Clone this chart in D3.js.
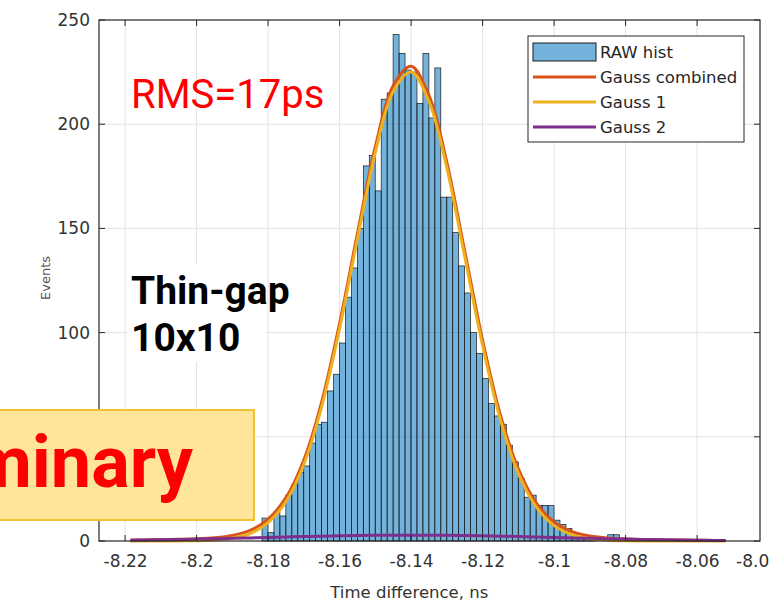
<!DOCTYPE html>
<html>
<head>
<meta charset="utf-8">
<script src="https://cdn.jsdelivr.net/npm/d3@7"></script>
<style>
    body { margin: 0; background: #fff; }
    #chart { width: 781px; height: 606px; overflow: hidden; }
</style>
</head>
<body>
<div id="chart"></div>
<script>
// raw histogram, counts per bin (bins of ~1.67 ps)
const binStart = -8.1817;
const binWidth = 0.001667;
const binCounts = [11, 4, 14, 12, 22, 27, 33, 36, 47, 56, 57, 72, 80, 95, 117, 131, 150, 180, 185, 168,
    212, 215, 243, 234, 226, 225, 210, 234, 203, 227, 165, 165, 148, 132, 119, 100, 90, 78, 66, 60,
    56, 46, 38, 30, 21, 22, 17, 17, 17, 10, 8, 6, 3, 2, 1, 1, 0, 0, 3, 3, 0];

// fitted curves
const fitX = [-8.2185, -8.215, -8.21, -8.205, -8.2, -8.195, -8.19, -8.185, -8.18, -8.175, -8.17, -8.165,
    -8.16, -8.155, -8.15, -8.145, -8.14, -8.135, -8.13, -8.125, -8.12, -8.115, -8.11, -8.105, -8.1,
    -8.095, -8.09, -8.085, -8.08, -8.075, -8.07, -8.065, -8.06, -8.055, -8.052];
const gaussCombined = [0.38, 0.48, 0.6, 0.8, 1.05, 1.56, 2.68, 5.09, 10.5, 20.8, 38.9, 66.8, 104.5, 147.6,
    189.2, 218.5, 227.8, 213.8, 181.7, 139.1, 96.3, 60.4, 34.6, 18.3, 9.1, 4.5, 2.4, 1.5, 1.0, 0.75,
    0.6, 0.48, 0.38, 0.29, 0.24];
const gauss1 = [0, 0, 0, 0.05, 0.14, 0.47, 1.4, 3.6, 8.8, 18.9, 36.8, 64.5, 102, 145, 186.5, 215.7, 225,
    211, 179, 136.5, 93.8, 58.1, 32.5, 16.4, 7.4, 3.0, 1.1, 0.4, 0.1, 0, 0, 0, 0, 0, 0];
const gauss2 = [0.38, 0.48, 0.6, 0.75, 0.91, 1.09, 1.28, 1.49, 1.7, 1.91, 2.12, 2.3, 2.47, 2.61, 2.71,
    2.78, 2.8, 2.78, 2.71, 2.61, 2.47, 2.3, 2.12, 1.91, 1.7, 1.49, 1.28, 1.09, 0.91, 0.75, 0.6, 0.48,
    0.38, 0.29, 0.24];

const xTicks = [-8.22, -8.2, -8.18, -8.16, -8.14, -8.12, -8.1, -8.08, -8.06, -8.04];
const yTicks = [0, 50, 100, 150, 200, 250];
const seriesNames = ["RAW hist", "Gauss combined", "Gauss 1", "Gauss 2"];

class HistFit {
    constructor(parentElement) {
        this.parentElement = parentElement;
        this.initVis();
    }

    initVis() {
        let vis = this;

        vis.margin = {top: 20, right: 21, bottom: 65, left: 99};
        vis.width = 781 - vis.margin.left - vis.margin.right;
        vis.height = 606 - vis.margin.top - vis.margin.bottom;

        // svg a bit narrower than the page: the last tick label is cut like in the original
        vis.svg = d3.select("#" + vis.parentElement).append("svg")
            .attr("width", 770)
            .attr("height", 606)
            .style("font-family", "'DejaVu Sans', sans-serif");

        vis.g = vis.svg.append("g")
            .attr("transform", "translate(" + vis.margin.left + "," + vis.margin.top + ")");

        vis.x = d3.scaleLinear()
            .domain([-8.2273, -8.0424])
            .range([0, vis.width]);

        vis.y = d3.scaleLinear()
            .domain([0, 250])
            .range([vis.height, 0]);

        vis.colors = {hist: "#0072BD", comb: "#D95319", g1: "#EDB120", g2: "#7E2F8E"};

        vis.updateVis();
    }

    updateVis() {
        let vis = this;
        let inX = xTicks.filter(d => d < -8.05);

        // grid
        vis.g.append("g").selectAll("line")
            .data(inX).enter().append("line")
            .attr("x1", d => vis.x(d)).attr("x2", d => vis.x(d))
            .attr("y1", 0).attr("y2", vis.height)
            .attr("stroke", "#e3e3e3");
        vis.g.append("g").selectAll("line")
            .data(yTicks.slice(1, -1)).enter().append("line")
            .attr("y1", d => vis.y(d)).attr("y2", d => vis.y(d))
            .attr("x1", 0).attr("x2", vis.width)
            .attr("stroke", "#e3e3e3");

        // histogram bars
        vis.g.append("g").selectAll("rect")
            .data(binCounts).enter().append("rect")
            .attr("x", (d, i) => vis.x(binStart + i * binWidth))
            .attr("width", vis.x(binStart + binWidth) - vis.x(binStart))
            .attr("y", d => vis.y(d))
            .attr("height", d => vis.height - vis.y(d))
            .attr("fill", vis.colors.hist)
            .attr("fill-opacity", 0.55)
            .attr("stroke", "#1a1a1a")
            .attr("stroke-width", 0.7);

        let line = d3.line()
            .x((d, i) => vis.x(fitX[i]))
            .y(d => vis.y(d))
            .curve(d3.curveCatmullRom.alpha(0.5));

        [[gaussCombined, vis.colors.comb], [gauss1, vis.colors.g1], [gauss2, vis.colors.g2]].forEach(s => {
            vis.g.append("path")
                .datum(s[0])
                .attr("d", line)
                .attr("fill", "none")
                .attr("stroke", s[1])
                .attr("stroke-width", 3)
                .attr("stroke-linejoin", "round");
        });

        // axes (ticks inward, box on)
        let xAxis = vis.g.append("g")
            .attr("transform", "translate(0," + vis.height + ")")
            .call(d3.axisBottom(vis.x).tickValues(xTicks).tickSize(0).tickPadding(14)
                .tickFormat(d => String(+d.toFixed(2))));
        xAxis.select(".domain").remove();
        xAxis.selectAll("text").attr("font-size", 17).attr("fill", "#333")
            .attr("font-family", "'DejaVu Sans', sans-serif")
            .filter(d => d === -8.04).attr("dx", -11);

        let yAxis = vis.g.append("g")
            .call(d3.axisLeft(vis.y).tickValues(yTicks).tickSize(0).tickPadding(9));
        yAxis.select(".domain").remove();
        yAxis.selectAll("text").attr("font-size", 17).attr("fill", "#333")
            .attr("font-family", "'DejaVu Sans', sans-serif");

        // tick marks on all four sides
        let tk = vis.g.append("g").attr("stroke", "#262626").attr("stroke-width", 1);
        inX.forEach(d => {
            tk.append("line").attr("x1", vis.x(d)).attr("x2", vis.x(d)).attr("y1", vis.height).attr("y2", vis.height - 6);
            tk.append("line").attr("x1", vis.x(d)).attr("x2", vis.x(d)).attr("y1", 0).attr("y2", 6);
        });
        yTicks.forEach(d => {
            tk.append("line").attr("x1", 0).attr("x2", 6).attr("y1", vis.y(d)).attr("y2", vis.y(d));
            tk.append("line").attr("x1", vis.width).attr("x2", vis.width - 6).attr("y1", vis.y(d)).attr("y2", vis.y(d));
        });

        vis.g.append("rect")
            .attr("width", vis.width).attr("height", vis.height)
            .attr("fill", "none").attr("stroke", "#262626").attr("stroke-width", 1.2);

        // axis labels
        vis.g.append("text")
            .attr("x", vis.x(-8.1405)).attr("y", vis.height + 57)
            .attr("text-anchor", "middle").attr("font-size", 16.5).attr("fill", "#333")
            .text("Time difference, ns");

        vis.svg.append("text")
            .attr("transform", "translate(50,278) rotate(-90)")
            .attr("text-anchor", "middle").attr("font-size", 13).attr("fill", "#555")
            .text("Events");

        // legend
        let lg = vis.svg.append("g").attr("transform", "translate(528,36)");
        lg.append("rect").attr("width", 216).attr("height", 106)
            .attr("fill", "#fff").attr("stroke", "#262626").attr("stroke-width", 1);
        seriesNames.forEach((name, i) => {
            let cy = 16 + i * 25;
            if (i === 0) {
                lg.append("rect").attr("x", 5).attr("y", cy - 9).attr("width", 63).attr("height", 18)
                    .attr("fill", vis.colors.hist).attr("fill-opacity", 0.55)
                    .attr("stroke", "#1a1a1a").attr("stroke-width", 1);
            } else {
                lg.append("line").attr("x1", 5).attr("x2", 68).attr("y1", cy).attr("y2", cy)
                    .attr("stroke", [vis.colors.comb, vis.colors.g1, vis.colors.g2][i - 1])
                    .attr("stroke-width", 3);
            }
            lg.append("text").attr("x", 72).attr("y", cy + 6)
                .attr("font-size", 16.5).attr("fill", "#262626").text(name);
        });

        // overlay annotations
        vis.svg.append("rect").attr("x", 128).attr("y", 264).attr("width", 138).attr("height", 98).attr("fill", "#fff");
        vis.svg.append("text").attr("x", 131).attr("y", 108)
            .attr("font-family", "Roboto").attr("font-size", 40).attr("fill", "#ff0000")
            .text("RMS=17ps");
        vis.svg.append("text").attr("x", 131).attr("y", 304)
            .attr("font-family", "Roboto").attr("font-weight", "bold").attr("font-size", 39).attr("fill", "#000")
            .text("Thin-gap");
        vis.svg.append("text").attr("x", 131).attr("y", 351)
            .attr("font-family", "Roboto").attr("font-weight", "bold").attr("font-size", 39).attr("fill", "#000")
            .text("10x10");

        vis.svg.append("rect").attr("x", -5).attr("y", 410).attr("width", 259).attr("height", 110)
            .attr("fill", "#ffe599").attr("stroke", "#f1c232").attr("stroke-width", 2);
        vis.svg.append("text").attr("x", 193).attr("y", 487).attr("text-anchor", "end")
            .attr("font-family", "Roboto").attr("font-weight", "bold").attr("font-size", 72).attr("fill", "#ff0000")
            .text("Preliminary");
    }
}

new HistFit("chart");
</script>
</body>
</html>
